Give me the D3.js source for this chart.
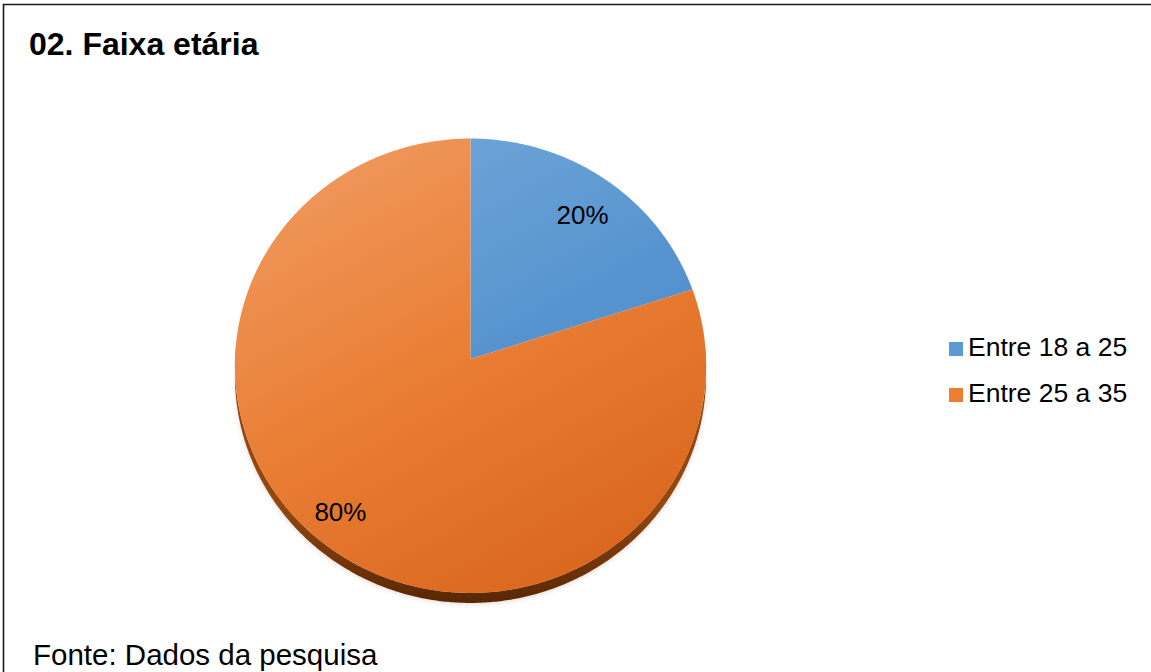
<!DOCTYPE html>
<html>
<head>
<meta charset="utf-8">
<script src="https://cdn.jsdelivr.net/npm/d3@7"></script>
<style>
  html, body { margin: 0; padding: 0; background: #fff; }
  svg { display: block; }
  text { font-family: "Liberation Sans", Arial, sans-serif; fill: #000; }
</style>
</head>
<body>
<div id="chart"></div>
<script>
// ---- data ----
const title = "02. Faixa etária";
const source = "Fonte: Dados da pesquisa";
const categories = ["Entre 18 a 25", "Entre 25 a 35"];
const values = [20, 80];
const valueLabels = ["20%", "80%"];

// ---- styles / layout ----
const W = 1151, H = 672;
const topLight = ["#74a8da", "#f09a5f"];
const topMid = ["#5794cf", "#e97d33"];
const topDark = ["#4482c5", "#d9651c"];
const rimTop = ["#2f5f92", "#93460e"];
const rimBottom = ["#22466e", "#582704"];
const legendColors = ["#5b9bd5", "#ed7d31"];
const labelRadius = [0.81, 0.855];
const labelShiftDeg = [0.8, 3.3];

const cx = 470.5, cy = 359, R = 235.5, Ry = 227, k = 0.0297, depth = 10;

const svg = d3.select("#chart").append("svg")
  .attr("width", W).attr("height", H);

const defs = svg.append("defs");

// border
svg.append("path")
  .attr("d", `M3.5,${H + 5} L3.5,4.5 L${W + 5},4.5`)
  .attr("fill", "none").attr("stroke", "#1a1a1a").attr("stroke-width", 1.6);

svg.append("text").attr("x", 29).attr("y", 55)
  .attr("font-size", 32).attr("font-weight", "bold").text(title);

svg.append("text").attr("x", 33).attr("y", 665)
  .attr("font-size", 29.5).text(source);

// scales
const xScale = d3.scaleLinear().domain([-1, 1]).range([cx - R, cx + R]);
const yScale = d3.scaleLinear().domain([-1, 1]).range([cy - Ry, cy + Ry]);

function project(theta, r) {
  const u = r * Math.sin(theta), v = -r * Math.cos(theta);
  const w = 1 - k * v;
  return [xScale(u / w), yScale(v / w)];
}

const pie = d3.pie().sort(null).value(d => d);
const arcs = pie(values);

// gradients
arcs.forEach((a, i) => {
  const g = defs.append("linearGradient").attr("id", "top" + i)
    .attr("gradientUnits", "userSpaceOnUse")
    .attr("x1", cx - R * 0.6).attr("y1", cy - Ry)
    .attr("x2", cx + R * 0.5).attr("y2", cy + Ry + 10);
  g.append("stop").attr("offset", 0).attr("stop-color", topLight[i]);
  g.append("stop").attr("offset", 0.5).attr("stop-color", topMid[i]);
  g.append("stop").attr("offset", 1).attr("stop-color", topDark[i]);
  const r = defs.append("linearGradient").attr("id", "rim" + i)
    .attr("gradientUnits", "userSpaceOnUse")
    .attr("x1", 0).attr("y1", cy + 150).attr("x2", 0).attr("y2", cy + Ry / (1 - k) + depth);
  r.append("stop").attr("offset", 0).attr("stop-color", rimTop[i]);
  r.append("stop").attr("offset", 1).attr("stop-color", rimBottom[i]);
});

const shadowFilter = defs.append("filter").attr("id", "shadow")
  .attr("x", "-20%").attr("y", "-20%").attr("width", "140%").attr("height", "140%");
shadowFilter.append("feGaussianBlur").attr("stdDeviation", 2.5);

const line = d3.line();
const deg = Math.PI / 180;

function sampleAngles(a0, a1) {
  const n = Math.max(2, Math.ceil((a1 - a0) / (0.5 * deg)));
  return d3.range(n + 1).map(j => a0 + (a1 - a0) * j / n);
}

// soft shadow under pie
const shadowPts = sampleAngles(Math.PI / 2, 3 * Math.PI / 2).map(t => {
  const p = project(t, 1); return [p[0], p[1] + depth + 1];
});
svg.append("path")
  .attr("d", line(shadowPts.concat(shadowPts.slice().reverse().map(p => [p[0], p[1] - 14]))) + "Z")
  .attr("fill", "#7a4a2a").attr("opacity", 0.22).attr("filter", "url(#shadow)");

// rims (side walls)
const rimG = svg.append("g");
arcs.forEach((a, i) => {
  const lo = Math.max(a.startAngle, Math.PI / 2 - 0.05);
  const hi = Math.min(a.endAngle, 3 * Math.PI / 2 + 0.05);
  if (hi <= lo) return;
  const ts = sampleAngles(lo, hi);
  const topPts = ts.map(t => project(t, 1));
  const botPts = ts.slice().reverse().map(t => { const p = project(t, 1); return [p[0], p[1] + depth]; });
  rimG.append("path").attr("d", line(topPts.concat(botPts)) + "Z")
    .attr("fill", `url(#rim${i})`);
});

// top surfaces
const topG = svg.append("g");
arcs.forEach((a, i) => {
  const pts = [[cx, cy]].concat(sampleAngles(a.startAngle, a.endAngle).map(t => project(t, 1)));
  topG.append("path").attr("d", line(pts) + "Z")
    .attr("fill", `url(#top${i})`);
});

// labels
arcs.forEach((a, i) => {
  const mid = (a.startAngle + a.endAngle) / 2 + labelShiftDeg[i] * deg;
  const p = project(mid, labelRadius[i]);
  svg.append("text").attr("x", p[0]).attr("y", p[1])
    .attr("dy", "0.35em").attr("text-anchor", "middle")
    .attr("font-size", 26).text(valueLabels[i]);
});

// legend
const legY = d3.scalePoint().domain(categories).range([349, 395]);
const leg = svg.append("g");
categories.forEach((c, i) => {
  leg.append("rect").attr("x", 949).attr("y", legY(c) - 7)
    .attr("width", 14).attr("height", 14).attr("fill", legendColors[i]);
  leg.append("text").attr("x", 968).attr("y", legY(c) + 7)
    .attr("font-size", 26.5).text(c);
});
</script>
</body>
</html>
